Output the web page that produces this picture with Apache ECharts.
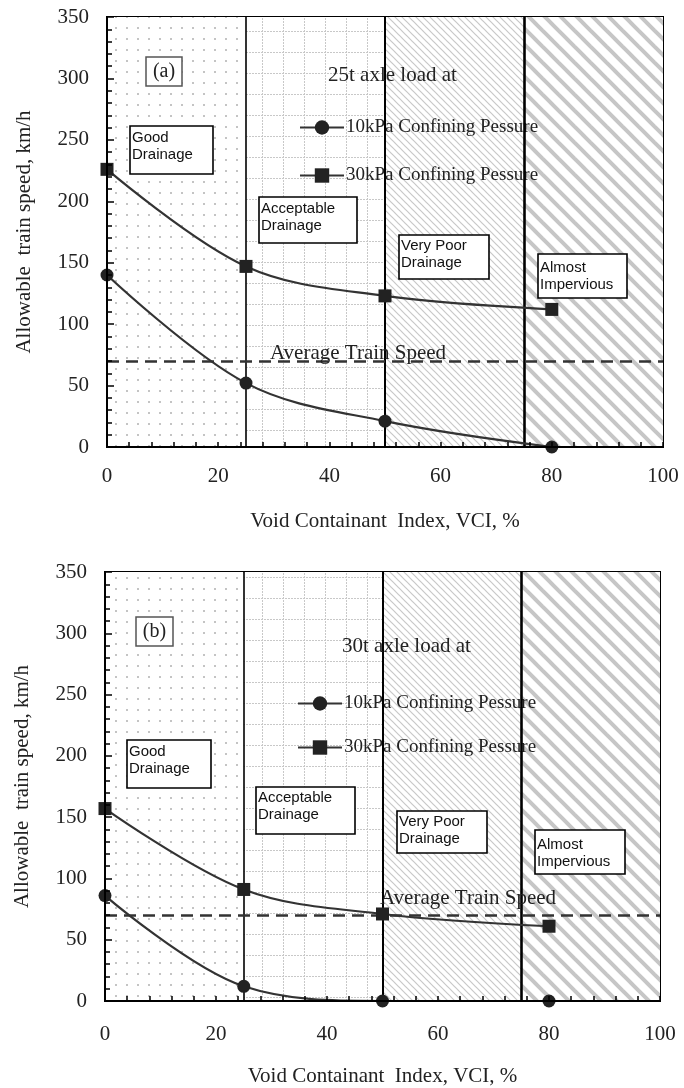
<!DOCTYPE html>
<html><head><meta charset="utf-8">
<script src="https://cdn.jsdelivr.net/npm/echarts@6/dist/echarts.min.js"></script>
<style>html,body{margin:0;padding:0;background:#fff}#c{width:684px;height:1088px}</style>
</head><body><div id="c"></div>
<script>
// ---- data ----
const vci = [0, 25, 50, 80];
const speedA10 = [140, 52, 21, 0];
const speedA30 = [226, 147, 123, 112];
const speedB10 = [86, 12, 0, 0];
const speedB30 = [157, 91, 71, 61];
const avgSpeed = 70;
const zoneEdges = [0, 25, 50, 75, 100];
const seriesNames = ['10kPa Confining Pessure', '30kPa Confining Pessure'];
const yTitle = 'Allowable  train speed, km/h';
const xTitle = 'Void Containant  Index, VCI, %';

// ---- patterns ----
function mk(w, h, draw) { const c = document.createElement('canvas'); c.width = w; c.height = h; const g = c.getContext('2d'); g.fillStyle = '#fff'; g.fillRect(0, 0, w, h); draw(g, w, h); return { image: c, repeat: 'repeat' }; }
const patDots = () => mk(11, 11, g => { g.fillStyle = '#c4c4c4'; g.fillRect(5, 5, 2, 2); });
const patGrid = () => mk(21, 21, g => { g.fillStyle = '#c8c8c8'; for (let i = 0; i < 21; i += 3) { g.fillRect(i, 10, 2, 1); g.fillRect(10, i, 1, 2); } });
function hatch(s, lw, col) { return mk(s, s, (g) => { g.strokeStyle = col; g.lineWidth = lw; [-s, 0, s].forEach(c => { g.beginPath(); g.moveTo(-s, -s + c); g.lineTo(2 * s, 2 * s + c); g.stroke(); }); }); }
function zonesStyle() { return [patDots(), patGrid(), hatch(7, 1.2, '#c8c8c8'), hatch(16, 4, '#c6c6c6')]; }

function zoneAreas() {
  const pats = zonesStyle();
  const d = [];
  for (let i = 0; i < zoneEdges.length - 1; i++) d.push([{ xAxis: zoneEdges[i], itemStyle: { color: pats[i] } }, { xAxis: zoneEdges[i + 1] }]);
  return d;
}
function lines() {
  return [
    { xAxis: zoneEdges[1], lineStyle: { color: '#000', width: 1.6, type: 'solid' } },
    { xAxis: zoneEdges[2], lineStyle: { color: '#000', width: 2, type: 'solid' } },
    { xAxis: zoneEdges[3], lineStyle: { color: '#000', width: 2.6, type: 'solid' } },
    { yAxis: avgSpeed, lineStyle: { color: '#333', width: 2.5, type: [12, 7] } }
  ];
}
const serif = 'Liberation Serif';
function xAx(i, margin, gap) {
  return { gridIndex: i, type: 'value', min: 0, max: 100, interval: 20, z: 20,
    axisLine: { show: true, onZero: false, lineStyle: { color: '#000', width: 2 } },
    axisTick: { show: true, inside: true, length: 5, lineStyle: { color: '#000', width: 1.5 } },
    minorTick: { show: true, splitNumber: 5, length: 5, lineStyle: { color: '#000', width: 1.5 } },
    splitLine: { show: false },
    axisLabel: { color: '#222', fontFamily: serif, fontSize: 21, margin: margin },
    name: xTitle, nameLocation: 'middle', nameGap: gap, nameTextStyle: { color: '#222', fontFamily: serif, fontSize: 21 } };
}
function yAx(i) {
  return { gridIndex: i, type: 'value', min: 0, max: 350, interval: 50, z: 20,
    axisLine: { show: true, onZero: false, lineStyle: { color: '#000', width: 2 } },
    axisTick: { show: true, inside: true, length: 7, lineStyle: { color: '#000', width: 1.5 } },
    minorTick: { show: true, splitNumber: 5, length: 5, lineStyle: { color: '#000', width: 1.5 } },
    splitLine: { show: false },
    axisLabel: { color: '#222', fontFamily: serif, fontSize: 21, margin: 18 },
    name: yTitle, nameLocation: 'middle', nameGap: 72, nameTextStyle: { color: '#222', fontFamily: serif, fontSize: 21 } };
}
function ser(name, gi, ys, sym, withMarks) {
  const s = { name: name, type: 'line', xAxisIndex: gi, yAxisIndex: gi,
    data: vci.map((x, k) => [x, ys[k]]), smooth: 0.35,
    symbol: sym, symbolSize: 13, itemStyle: { color: '#222' }, lineStyle: { color: '#333', width: 2.2 }, z: 5 };
  if (withMarks) {
    s.markArea = { silent: true, data: zoneAreas() };
    s.markLine = { silent: true, symbol: 'none', label: { show: false }, data: lines() };
  }
  return s;
}
function box(x, y, w, h, txt, tx, ty) {
  return [{ type: 'rect', shape: { x: x, y: y, width: w, height: h }, style: { fill: '#fff', stroke: '#000', lineWidth: 1.6 }, z: 50 },
    { type: 'text', x: tx, y: ty, style: { text: txt, font: '15px "Liberation Sans"', fill: '#111', lineHeight: 17 }, z: 51 }];
}
function serifText(txt, x, y, size, align) {
  return { type: 'text', x: x, y: y, style: { text: txt, font: size + 'px "Liberation Serif"', fill: '#222', textVerticalAlign: 'middle', textAlign: align || 'left' }, z: 52 };
}
const graphics = [].concat(
  [{ type: 'rect', shape: { x: 146, y: 57, width: 36, height: 29 }, style: { fill: '#fff', stroke: '#555', lineWidth: 1.5 }, z: 50 }, serifText('(a)', 164, 72, 20, 'center')],
  [serifText('25t axle load at', 328, 75, 21), serifText('Average Train Speed', 270, 353, 21)],
  box(130, 126, 83, 48, 'Good\nDrainage', 132, 129),
  box(259, 197, 98, 46, 'Acceptable\nDrainage', 261, 200),
  box(399, 235, 90, 44, 'Very Poor\nDrainage', 401, 237),
  box(538, 254, 89, 44, 'Almost\nImpervious', 540, 259),
  [{ type: 'rect', shape: { x: 136, y: 617, width: 37, height: 29 }, style: { fill: '#fff', stroke: '#555', lineWidth: 1.5 }, z: 50 }, serifText('(b)', 154.5, 632, 20, 'center')],
  [serifText('30t axle load at', 342, 646, 21), serifText('Average Train Speed', 380, 898, 21)],
  box(127, 740, 84, 48, 'Good\nDrainage', 129, 743),
  box(256, 787, 99, 47, 'Acceptable\nDrainage', 258, 789),
  box(397, 811, 90, 42, 'Very Poor\nDrainage', 399, 813),
  box(535, 830, 90, 44, 'Almost\nImpervious', 537, 836)
);
const chart = echarts.init(document.getElementById('c'), null, { renderer: 'canvas' });
chart.setOption({
  animation: false,
  backgroundColor: '#fff',
  grid: [
    { left: 107, top: 17, width: 556, height: 430, show: true, borderColor: '#000', borderWidth: 2, backgroundColor: 'transparent' },
    { left: 105, top: 572, width: 555, height: 429, show: true, borderColor: '#000', borderWidth: 2, backgroundColor: 'transparent' }
  ],
  legend: [
    { data: seriesNames, orient: 'vertical', left: 294, top: 113, itemWidth: 44, itemHeight: 18, itemGap: 29, textStyle: { fontFamily: serif, fontSize: 19, color: '#222', padding: [0, 0, 0, -3] }, selectedMode: false },
    { data: seriesNames, orient: 'vertical', left: 292, top: 689, itemWidth: 44, itemHeight: 18, itemGap: 25, textStyle: { fontFamily: serif, fontSize: 19, color: '#222', padding: [0, 0, 0, -3] }, selectedMode: false }
  ],
  xAxis: [xAx(0, 19, 64), xAx(1, 23, 65)],
  yAxis: [yAx(0), yAx(1)],
  series: [
    ser(seriesNames[0], 0, speedA10, 'circle', true),
    ser(seriesNames[1], 0, speedA30, 'rect', false),
    ser(seriesNames[0], 1, speedB10, 'circle', true),
    ser(seriesNames[1], 1, speedB30, 'rect', false)
  ],
  graphic: graphics
});
</script></body></html>
